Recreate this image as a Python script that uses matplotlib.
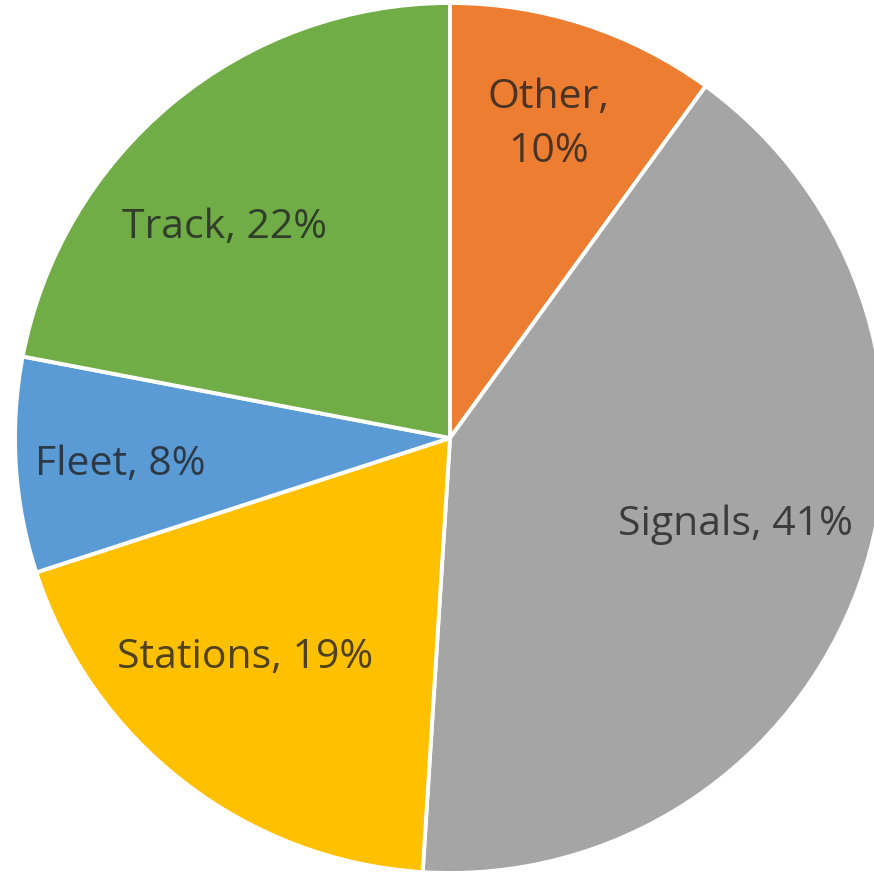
import numpy as np
import matplotlib
matplotlib.use("Agg")
import matplotlib.pyplot as plt

# Share of spend by category (percent), clockwise from 12 o'clock
categories = ["Other", "Signals", "Stations", "Fleet", "Track"]
shares = [10, 41, 19, 8, 22]
label_texts = ["Other,\n10%", "Signals, 41%", "Stations, 19%", "Fleet, 8%", "Track, 22%"]

colors = ["#ED7D31", "#A5A5A5", "#FFC000", "#5B9BD5", "#70AD47"]

# label placement: fraction of radius, angular nudge (degrees)
label_radius = [0.754, 0.685, 0.69, 0.76, 0.708]
label_nudge = [0.6, 2.8, -5.2, 1.1, 7.4]

W, H = 874, 876
fig = plt.figure(figsize=(W / 100, H / 100), dpi=100)
ax = fig.add_axes([0, 0, 1, 1])

cx, cy, R = 450.0, 438.0, 435.0  # pixel centre and radius

wedges, _ = ax.pie(
    shares,
    colors=colors,
    startangle=90,
    counterclock=False,
    radius=1.0,
    wedgeprops=dict(edgecolor="white", linewidth=2.8, antialiased=True),
)

for w, txt, rf, nd in zip(wedges, label_texts, label_radius, label_nudge):
    mid = np.deg2rad((w.theta1 + w.theta2) / 2 + nd)
    ax.text(rf * np.cos(mid), rf * np.sin(mid), txt,
            ha="center", va="center", fontsize=29.5, family="Open Sans",
            color="#222222", alpha=0.8, linespacing=1.45)

ax.set_xlim(-cx / R, (W - cx) / R)
ax.set_ylim(-(H - cy) / R, cy / R)
ax.set_aspect("auto")
ax.axis("off")

fig.savefig("out.png", dpi=100, facecolor="white")
